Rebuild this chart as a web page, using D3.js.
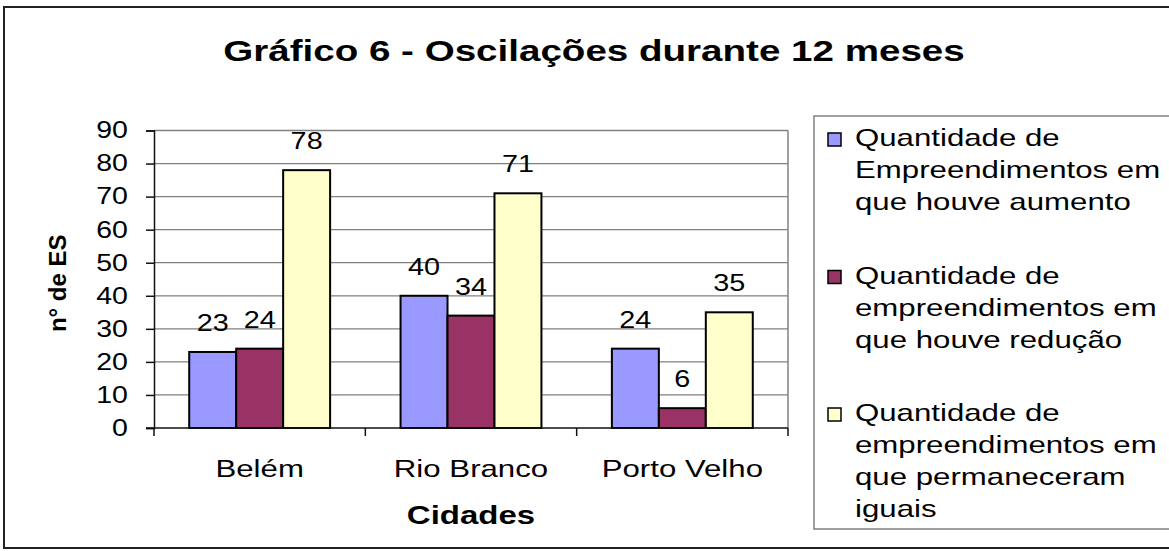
<!DOCTYPE html>
<html>
<head>
<meta charset="utf-8">
<script src="https://cdn.jsdelivr.net/npm/d3@7"></script>
<style>
  body { margin: 0; background: #fff; }
  text { font-family: "Liberation Sans", Arial, sans-serif; fill: #000; }
</style>
</head>
<body>
<div id="wrapper"></div>
<script>
// chart values
var categories = ["Belém", "Rio Branco", "Porto Velho"];
var seriesNames = ["aumento", "reducao", "iguais"];
var aumento = [23, 40, 24];
var reducao = [24, 34, 6];
var iguais = [78, 71, 35];
var legendLines = [
  ["Quantidade de", "Empreendimentos em", "que houve aumento"],
  ["Quantidade de", "empreendimentos em", "que houve redução"],
  ["Quantidade de", "empreendimentos em", "que permaneceram", "iguais"]
];
var yTicks = [0, 10, 20, 30, 40, 50, 60, 70, 80, 90];

var seriesValues = { aumento: aumento, reducao: reducao, iguais: iguais };

var W = 1169, H = 551;
var plot = { left: 154, top: 130.5, right: 788, bottom: 428 };

var svg = d3.select("#wrapper").append("svg")
    .attr("width", W)
    .attr("height", H);

svg.append("rect").attr("width", W).attr("height", H).attr("fill", "#fff");

// outer chart frame
svg.append("rect")
    .attr("x", 4).attr("y", 7)
    .attr("width", W + 10).attr("height", 541)
    .attr("fill", "none")
    .attr("stroke", "#222")
    .attr("stroke-width", 2);

// stretched text helper (the picture is wider than the font)
function addText(g, x, y, str, sx, anchor) {
  return g.append("text")
      .attr("transform", "translate(" + x + "," + y + ") scale(" + sx + ",1)")
      .attr("text-anchor", anchor || "start")
      .text(str);
}

// scales
var y = d3.scaleLinear().domain([0, 90]).range([plot.bottom, plot.top]);
var x0 = d3.scaleBand().domain(categories).range([plot.left, plot.right]).padding(0);
var x1 = d3.scaleBand().domain(seriesNames).range([0, x0.bandwidth()])
    .paddingInner(0).paddingOuter(0.75);
var color = d3.scaleOrdinal().domain(seriesNames).range(["#9999ff", "#993366", "#ffffcc"]);

// gridlines
svg.append("g").selectAll("line")
    .data(yTicks.slice(1))
  .enter().append("line")
    .attr("x1", plot.left).attr("x2", plot.right)
    .attr("y1", function(d) { return y(d); })
    .attr("y2", function(d) { return y(d); })
    .attr("stroke", "#808080")
    .attr("stroke-width", 1.3);

// plot area right border
svg.append("line")
    .attr("x1", plot.right).attr("x2", plot.right)
    .attr("y1", plot.top).attr("y2", plot.bottom)
    .attr("stroke", "#808080").attr("stroke-width", 1.5);

// bars
var rows = categories.map(function(c, i) {
  return { cat: c, vals: seriesNames.map(function(s) { return { key: s, value: seriesValues[s][i] }; }) };
});

var groups = svg.append("g").selectAll("g")
    .data(rows)
  .enter().append("g")
    .attr("transform", function(d) { return "translate(" + x0(d.cat) + ",0)"; });

groups.selectAll("rect")
    .data(function(d) { return d.vals; })
  .enter().append("rect")
    .attr("x", function(d) { return x1(d.key); })
    .attr("y", function(d) { return y(d.value); })
    .attr("width", x1.bandwidth())
    .attr("height", function(d) { return plot.bottom - y(d.value); })
    .attr("fill", function(d) { return color(d.key); })
    .attr("stroke", "#000")
    .attr("stroke-width", 2);

// value labels
groups.each(function(d) {
  var g = d3.select(this);
  d.vals.forEach(function(v) {
    addText(g, x1(v.key) + x1.bandwidth() / 2, y(v.value) - 21, v.value, 1.2, "middle")
        .style("font-size", "24px");
  });
});

// y axis
var yAxis = svg.append("g")
    .attr("transform", "translate(" + plot.left + ",0)")
    .call(d3.axisLeft(y).tickValues(yTicks).tickSize(8).tickPadding(13));
yAxis.select(".domain").attr("stroke", "#111").attr("stroke-width", 1.5);
yAxis.selectAll(".tick line").attr("stroke", "#111").attr("stroke-width", 1.5);
yAxis.selectAll(".tick text")
    .attr("transform", "scale(1.24,1)")
    .style("font-size", "23px")
    .style("font-family", "Liberation Sans, Arial, sans-serif")
    .attr("fill", "#000");

// x axis line + category boundary ticks
svg.append("line")
    .attr("x1", plot.left - 8).attr("x2", plot.right)
    .attr("y1", plot.bottom).attr("y2", plot.bottom)
    .attr("stroke", "#111").attr("stroke-width", 1.5);

var bounds = categories.map(function(c) { return x0(c); }).concat([x0(categories[categories.length - 1]) + x0.bandwidth()]);
svg.append("g").selectAll("line")
    .data(bounds)
  .enter().append("line")
    .attr("x1", function(d) { return d; }).attr("x2", function(d) { return d; })
    .attr("y1", plot.bottom).attr("y2", plot.bottom + 8)
    .attr("stroke", "#111").attr("stroke-width", 1.5);

categories.forEach(function(c) {
  addText(svg, x0(c) + x0.bandwidth() / 2, 477, c, 1.3, "middle")
      .style("font-size", "24px");
});

// axis titles
addText(svg, (plot.left + plot.right) / 2, 524, "Cidades", 1.32, "middle")
    .style("font-size", "25px").style("font-weight", "bold");

svg.append("text")
    .attr("transform", "translate(66," + ((plot.top + plot.bottom) / 2 + 4) + ") rotate(-90)")
    .attr("text-anchor", "middle")
    .style("font-size", "24px")
    .style("font-weight", "bold")
    .text("n° de ES");

// title
addText(svg, 594, 61, "Gráfico 6 - Oscilações durante 12 meses", 1.33, "middle")
    .style("font-size", "29px").style("font-weight", "bold");

// legend
var legend = svg.append("g");
legend.append("rect")
    .attr("x", 814).attr("y", 116)
    .attr("width", 400).attr("height", 413)
    .attr("fill", "#fff")
    .attr("stroke", "#808080")
    .attr("stroke-width", 1.5);

var legendTop = 146, entryStep = 137.5, lineStep = 32;
seriesNames.forEach(function(s, i) {
  var by = legendTop + i * entryStep;
  legend.append("rect")
      .attr("x", 828).attr("y", by - 13)
      .attr("width", 13).attr("height", 13)
      .attr("fill", color(s))
      .attr("stroke", "#000")
      .attr("stroke-width", 1.5);
  legendLines[i].forEach(function(line, j) {
    addText(legend, 855, by + j * lineStep, line, 1.3, "start")
        .style("font-size", "24px");
  });
});
</script>
</body>
</html>
